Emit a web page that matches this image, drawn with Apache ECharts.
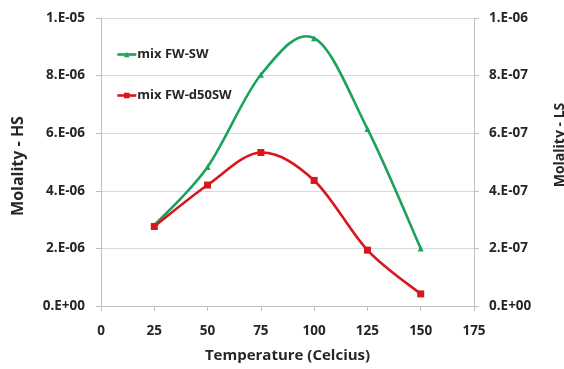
<!DOCTYPE html>
<html>
<head>
<meta charset="utf-8">
<script src="https://cdn.jsdelivr.net/npm/echarts@6/dist/echarts.min.js"></script>
<style>
  html, body { margin: 0; padding: 0; background: #fff; }
  #chart { width: 564px; height: 369px; }
</style>
</head>
<body>
<div id="chart"></div>
<script>
// Temperature points (°C)
const temperatures = [25, 50, 75, 100, 125, 150];
// Molality values
const mixFwSw = [2.8e-6, 4.83e-6, 8.03e-6, 9.3e-6, 6.15e-6, 2.0e-6];
const mixFwD50Sw = [2.76e-6, 4.2e-6, 5.33e-6, 4.36e-6, 1.94e-6, 0.42e-6];

const seriesNames = ['mix FW-SW', 'mix FW-d50SW'];
const colors = ['#1ba35b', '#d8161c'];

function sciLabel(v) {
  if (v === 0) return '0.E+00';
  const s = v.toExponential(0); // e.g. "2e-6"
  const [m, e] = s.split('e');
  const exp = parseInt(e, 10);
  const sign = exp < 0 ? '-' : '+';
  const abs = Math.abs(exp);
  return m + '.E' + sign + (abs < 10 ? '0' + abs : abs);
}

// Smooth curve through the points (cardinal spline as Bezier segments),
// computed in pixel space from api.coord so it follows the axes' scales.
function smoothCurve(values, color) {
  return function (params, api) {
    if (params.dataIndex !== 0) return null;
    const pts = temperatures.map((t, i) => api.coord([t, values[i]]));
    const k = 1 / 6;
    let d = 'M' + pts[0][0] + ' ' + pts[0][1];
    for (let i = 0; i < pts.length - 1; i++) {
      const p0 = pts[Math.max(i - 1, 0)];
      const p1 = pts[i];
      const p2 = pts[i + 1];
      const p3 = pts[Math.min(i + 2, pts.length - 1)];
      const c1 = [p1[0] + (p2[0] - p0[0]) * k, p1[1] + (p2[1] - p0[1]) * k];
      const c2 = [p2[0] - (p3[0] - p1[0]) * k, p2[1] - (p3[1] - p1[1]) * k];
      d += ' C' + c1[0] + ' ' + c1[1] + ' ' + c2[0] + ' ' + c2[1] + ' ' + p2[0] + ' ' + p2[1];
    }
    return {
      type: 'path',
      shape: { pathData: d },
      style: { fill: null, stroke: color, lineWidth: 2.6 }
    };
  };
}

const font = '"Open Sans", "Liberation Sans", sans-serif';
const textColor = '#262626';
const labelStyle = { color: textColor, fontFamily: font, fontWeight: 'bold', fontSize: 13.5 };
const titleStyle = { color: textColor, fontFamily: font, fontWeight: 'bold', fontSize: 15 };
const gridLine = { show: true, lineStyle: { color: '#d9d9d9', width: 1 } };
const axisLine = { show: true, lineStyle: { color: '#bfbfbf', width: 1 } };
const axisTick = { show: true, length: 5, lineStyle: { color: '#bfbfbf' } };

const chart = echarts.init(document.getElementById('chart'));
chart.setOption({
  animation: false,
  backgroundColor: '#fff',
  grid: { left: 101, right: 90, top: 18, bottom: 63, outerBoundsMode: 'none' },
  legend: {
    orient: 'vertical',
    left: 111,
    top: 43,
    itemGap: 28,
    itemWidth: 19,
    itemHeight: 7,
    lineStyle: { opacity: 1, width: 2.6 },
    textStyle: { color: textColor, fontFamily: font, fontWeight: 'bold', fontSize: 13, padding: [0, 0, 0, -4] },
    data: seriesNames
  },
  xAxis: {
    type: 'value',
    min: 0, max: 175, interval: 25,
    name: 'Temperature (Celcius)',
    nameLocation: 'middle',
    nameGap: 42,
    nameTextStyle: titleStyle,
    axisLine: axisLine,
    axisTick: axisTick,
    splitLine: { show: false },
    axisLabel: Object.assign({ margin: 18 }, labelStyle)
  },
  yAxis: [
    {
      type: 'value',
      min: 0, max: 1e-5, interval: 2e-6,
      name: 'Molality - HS',
      nameLocation: 'middle',
      nameGap: 75,
      nameTextStyle: Object.assign({}, titleStyle, { fontSize: 16, padding: [0, 8, 0, 0] }),
      axisLine: axisLine,
      axisTick: axisTick,
      splitLine: gridLine,
      axisLabel: Object.assign({ margin: 16 }, labelStyle)
    },
    {
      type: 'value',
      position: 'right',
      min: 0, max: 1e-6, interval: 2e-7,
      name: 'Molality - LS',
      nameLocation: 'middle',
      nameGap: 79,
      nameRotate: 90,
      nameTextStyle: Object.assign({}, titleStyle, { fontSize: 14, padding: [0, 0, 0, 34] }),
      axisLine: axisLine,
      axisTick: axisTick,
      splitLine: { show: false },
      axisLabel: Object.assign({ margin: 15 }, labelStyle)
    }
  ],
  series: [
    {
      type: 'custom',
      yAxisIndex: 0,
      renderItem: smoothCurve(mixFwSw, colors[0]),
      data: temperatures.map((t, i) => [t, mixFwSw[i]]),
      z: 2
    },
    {
      type: 'custom',
      yAxisIndex: 0,
      renderItem: smoothCurve(mixFwD50Sw, colors[1]),
      data: temperatures.map((t, i) => [t, mixFwD50Sw[i]]),
      z: 2
    },
    {
      name: seriesNames[0],
      type: 'line',
      yAxisIndex: 0,
      symbol: 'triangle',
      symbolSize: 6,
      itemStyle: { color: colors[0] },
      lineStyle: { color: colors[0], width: 2.6, opacity: 0 },
      data: temperatures.map((t, i) => [t, mixFwSw[i]]),
      z: 3
    },
    {
      name: seriesNames[1],
      type: 'line',
      yAxisIndex: 0,
      symbol: 'rect',
      symbolSize: 7,
      itemStyle: { color: colors[1] },
      lineStyle: { color: colors[1], width: 2.6, opacity: 0 },
      data: temperatures.map((t, i) => [t, mixFwD50Sw[i]]),
      z: 3
    }
  ]
});
// Axis label formatters (kept separate from the label style objects)
chart.setOption({
  yAxis: [{ axisLabel: { formatter: sciLabel } }, { axisLabel: { formatter: sciLabel } }]
});
</script>
</body>
</html>
